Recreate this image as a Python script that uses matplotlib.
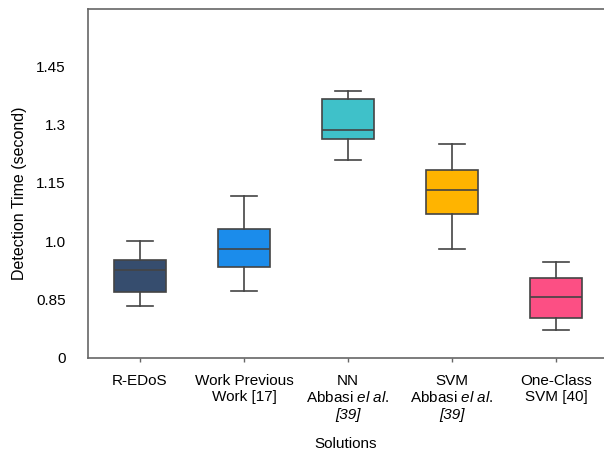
import matplotlib.pyplot as plt
import numpy as np

plt.rcParams['font.family'] = ['Liberation Sans', 'DejaVu Sans']
plt.rcParams['mathtext.fontset'] = 'custom'
plt.rcParams['mathtext.it'] = 'Liberation Sans:italic'
plt.rcParams['mathtext.rm'] = 'Liberation Sans'

solutions = ['R-EDoS', 'Work Previous\nWork [17]',
             'NN\nAbbasi $\\it{el\\ al.}$',
             'SVM\nAbbasi $\\it{el\\ al.}$',
             'One-Class\nSVM [40]']
# italic reference lines under the NN and SVM labels
refs = ['', '', '[39]', '[39]', '']
whis_low = [0.834, 0.872, 1.208, 0.979, 0.771]
q1 = [0.869, 0.933, 1.263, 1.070, 0.801]
median = [0.925, 0.980, 1.287, 1.131, 0.856]
q3 = [0.951, 1.030, 1.365, 1.183, 0.906]
whis_high = [1.000, 1.117, 1.387, 1.251, 0.947]
colors = ['#364d6e', '#1b8ceb', '#3fc1c9', '#ffb400', '#fc4f84']

ytick_vals = [0.7, 0.85, 1.0, 1.15, 1.3, 1.45]
ytick_labels = ['0', '0.85', '1.0', '1.15', '1.3', '1.45']

stats = []
for i in range(len(solutions)):
    stats.append(dict(whislo=whis_low[i], q1=q1[i], med=median[i],
                      q3=q3[i], whishi=whis_high[i], fliers=[]))

fig = plt.figure(figsize=(6.04, 4.53), dpi=100)
ax = fig.add_axes([0.1457, 0.2104, 0.861, 0.7704])

edge = '#444444'
pos = np.arange(1, 6)
bp = ax.bxp(stats, positions=pos, widths=0.5, patch_artist=True,
            showfliers=False, capwidths=0.25,
            boxprops=dict(edgecolor=edge, linewidth=1.2),
            medianprops=dict(color=edge, linewidth=1.2),
            whiskerprops=dict(color=edge, linewidth=1.2),
            capprops=dict(color=edge, linewidth=1.2))
for patch, c in zip(bp['boxes'], colors):
    patch.set_facecolor(c)

ax.set_xlim(0.5, 5.5)
ax.set_ylim(0.7, 1.598)
ax.set_yticks(ytick_vals)
ax.set_yticklabels(ytick_labels)
ax.set_xticks(pos)
ax.set_xticklabels(solutions, linespacing=1.15)
ax.tick_params(axis='y', length=0, pad=16, labelsize=11)
ax.tick_params(axis='x', length=3, width=1, color='#666666', pad=9, labelsize=11)

for p, r in zip(pos, refs):
    if r:
        ax.annotate(r, xy=(p, 0), xycoords=('data', 'axes fraction'),
                    xytext=(0, -41.5), textcoords='offset points',
                    ha='center', va='center', fontsize=11, fontstyle='italic')

for side in ['left', 'bottom', 'top']:
    ax.spines[side].set_color('#666666')
    ax.spines[side].set_linewidth(1.2)
ax.spines['right'].set_visible(False)

ax.set_ylabel('Detection Time (second)', fontsize=11.5)
ax.yaxis.set_label_coords(-0.118, 0.472)
ax.set_xlabel('Solutions', fontsize=11)
ax.xaxis.set_label_coords(0.495, -0.228)

plt.savefig('out.png', dpi=100)
